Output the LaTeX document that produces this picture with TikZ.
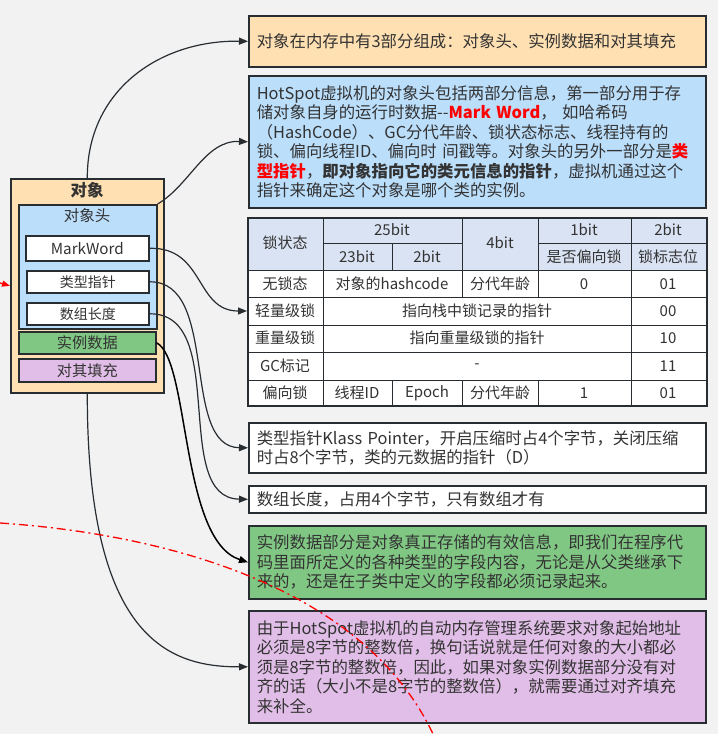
\documentclass[tikz,border=0pt]{standalone}
\usepackage{fontspec}
\setmainfont{Noto Sans CJK SC}
\usetikzlibrary{positioning,arrows.meta}
\definecolor{bgColor}{RGB}{242,242,242}
\definecolor{lineColor}{RGB}{40,45,50}
\definecolor{orangeFill}{RGB}{255,224,178}
\definecolor{blueFill}{RGB}{187,222,251}
\definecolor{greenFill}{RGB}{129,199,132}
\definecolor{purpleFill}{RGB}{225,190,231}
\definecolor{headFill}{RGB}{218,227,243}
\definecolor{textColor}{RGB}{51,51,51}
\tikzset{
  box/.style = {draw=lineColor, line width=1.6pt, anchor=north west, text=textColor},
  noteBox/.style = {box, align=left, inner xsep=8pt, inner ysep=3pt, text width=441pt,
    font=\fontsize{16.4}{19.5}\selectfont},
  partBox/.style = {box, font=\fontsize{15.2}{16}\selectfont},
  link/.style = {draw=lineColor, line width=1.2pt, -{Triangle[length=9pt,width=7pt]}},
  cellText/.style = {text=textColor, font=\fontsize{15}{16}\selectfont},
  gridLine/.style = {draw=lineColor, line width=0.8pt},
  redLine/.style = {draw=red, line width=1.3pt, dash pattern=on 9pt off 4pt on 2pt off 4pt}
}
\newcommand{\red}[1]{\textcolor{red}{\textbf{#1}}}
\begin{document}
\begin{tikzpicture}[x=1pt, y=-1pt]
  \fill [bgColor] (0,0) rectangle (718,734);
  \useasboundingbox (0,0) rectangle (718,734);

  % the object on the left
  \node [box, fill=orangeFill, minimum width=153pt, minimum height=214pt] (obj) at (10,178) {};
  \node [text=textColor, font=\fontsize{16.5}{17}\selectfont\bfseries] (objTitle) at (87,190) {对象};
  \node [box, fill=blueFill, minimum width=138pt, minimum height=124pt] (head) at (18,204) {};
  \node [text=textColor, font=\fontsize{15.5}{16}\selectfont] (headTitle) at (87,216) {对象头};
  \node [partBox, fill=white, minimum width=123pt, minimum height=25pt] (markWord) at (25,235) {MarkWord};
  \node [partBox, fill=white, minimum width=122pt, minimum height=22pt, font=\fontsize{14}{15}\selectfont] (klass) at (26,270) {类型指针};
  \node [partBox, fill=white, minimum width=122pt, minimum height=22pt, font=\fontsize{14}{15}\selectfont] (arrLen) at (26,302) {数组长度};
  \node [partBox, fill=greenFill, minimum width=137pt, minimum height=22pt] (inst) at (18,331) {实例数据};
  \node [partBox, fill=purpleFill, minimum width=137pt, minimum height=23pt] (pad) at (18,358) {对其填充};

  % notes on the right
  \node [noteBox, fill=orangeFill, minimum height=51pt] (noteA) at (248,15) {对象在内存中有3部分组成：对象头、实例数据和对其填充};
  \node [noteBox, fill=blueFill, minimum height=132pt] (noteB) at (248,75) {HotSpot虚拟机的对象头包括两部分信息，第一部分用于存\\储对象自身的运行时数据-{}-\red{Mark Word}，\ 如哈希码\\（HashCode）、GC分代年龄、锁状态标志、线程持有的\\锁、偏向线程ID、偏向时 间戳等。对象头的另外一部分是\red{类}\\\red{型指针}，\textbf{即对象指向它的类元信息的指针}，虚拟机通过这个\\指针来确定这个对象是哪个类的实例。};
  \node [noteBox, fill=white, minimum height=50pt] (noteC) at (248,422) {类型指针Klass Pointer，开启压缩时占4个字节，关闭压缩\\时占8个字节，类的元数据的指针（D）};
  \node [noteBox, fill=white, minimum height=27pt, inner ysep=1pt] (noteD) at (248,485) {数组长度，占用4个字节，只有数组才有};
  \node [noteBox, fill=greenFill, minimum height=73pt] (noteE) at (248,525) {实例数据部分是对象真正存储的有效信息，即我们在程序代\\码里面所定义的各种类型的字段内容，无论是从父类继承下\\来的，还是在子类中定义的字段都必须记录起来。};
  \node [noteBox, fill=purpleFill, minimum height=112pt] (noteF) at (248,610) {由于HotSpot虚拟机的自动内存管理系统要求对象起始地址\\必须是8字节的整数倍，换句话说就是任何对象的大小都必\\须是8字节的整数倍，因此，如果对象实例数据部分没有对\\齐的话（大小不是8字节的整数倍），就需要通过对齐填充\\来补全。};

  % the mark word table
  \fill [headFill] (247,217) rectangle (706,270);
  \fill [white] (247,270) rectangle (706,405);
  \foreach \y in {270,297,325,352,380} \draw [gridLine] (247,\y) -- (706,\y);
  \draw [gridLine] (323,243) -- (462,243);
  \draw [gridLine] (538,243) -- (706,243);
  \foreach \x in {323,462,538,631} \draw [gridLine] (\x,217) -- (\x,297);
  \draw [gridLine] (392,243) -- (392,270);
  \draw [gridLine] (323,297) -- (323,405);
  \draw [gridLine] (631,297) -- (631,405);
  \foreach \x in {392,462,538} \draw [gridLine] (\x,380) -- (\x,405);
  \node [draw=lineColor, line width=1.6pt, anchor=north west, minimum width=459pt, minimum height=188pt] (tbl) at (247,217) {};
  \foreach \x/\y/\t in {285/243/锁状态, 392/230/25bit, 357/257/23bit, 427/257/2bit, 500/243/4bit,
      584/230/1bit, 668/230/2bit, 584/257/是否偏向锁, 668/257/锁标志位,
      285/284/无锁态, 392/284/对象的hashcode, 500/284/分代年龄, 584/284/0, 668/284/01,
      285/311/轻量级锁, 477/311/指向栈中锁记录的指针, 668/311/00,
      285/338/重量级锁, 477/338/指向重量级锁的指针, 668/338/10,
      285/366/GC标记, 477/366/-, 668/366/11,
      285/393/偏向锁, 357/393/线程ID, 427/393/Epoch, 500/393/分代年龄, 584/393/1, 668/393/01}
    \node [cellText] at (\x,\y) {\t};

  % connectors
  \coordinate (tblIn) at (247,311);
  \draw [link] (obj.north) .. controls (87,90) and (160,40) .. (noteA.west);
  \draw [link] (head.north east) .. controls (190,185) and (205,140) .. (noteB.west);
  \draw [link] (markWord.east) .. controls (205,247) and (195,311) .. (tblIn);
  \draw [link] (klass.east) .. controls (220,281) and (180,447) .. (noteC.west);
  \draw [link] (arrLen.east) .. controls (230,313) and (170,498) .. (noteD.west);
  \draw [link, draw=black, line width=1.5pt] (inst.east) .. controls (190,360) and (180,540) .. (noteE.west);
  \draw [link] (obj.south) .. controls (87,640) and (170,667) .. (noteF.west);

  % red dash-dot lines
  \coordinate (redStart) at (0,283);
  \coordinate (redArcA) at (0,523);
  \coordinate (redArcB) at (433,734);
  \draw [redLine, -{Triangle[length=8pt,width=6pt]}] (redStart) -- (obj.west);
  \draw [redLine] (redArcA) .. controls (150,533) and (360,580) .. (redArcB);
\end{tikzpicture}
\end{document}
